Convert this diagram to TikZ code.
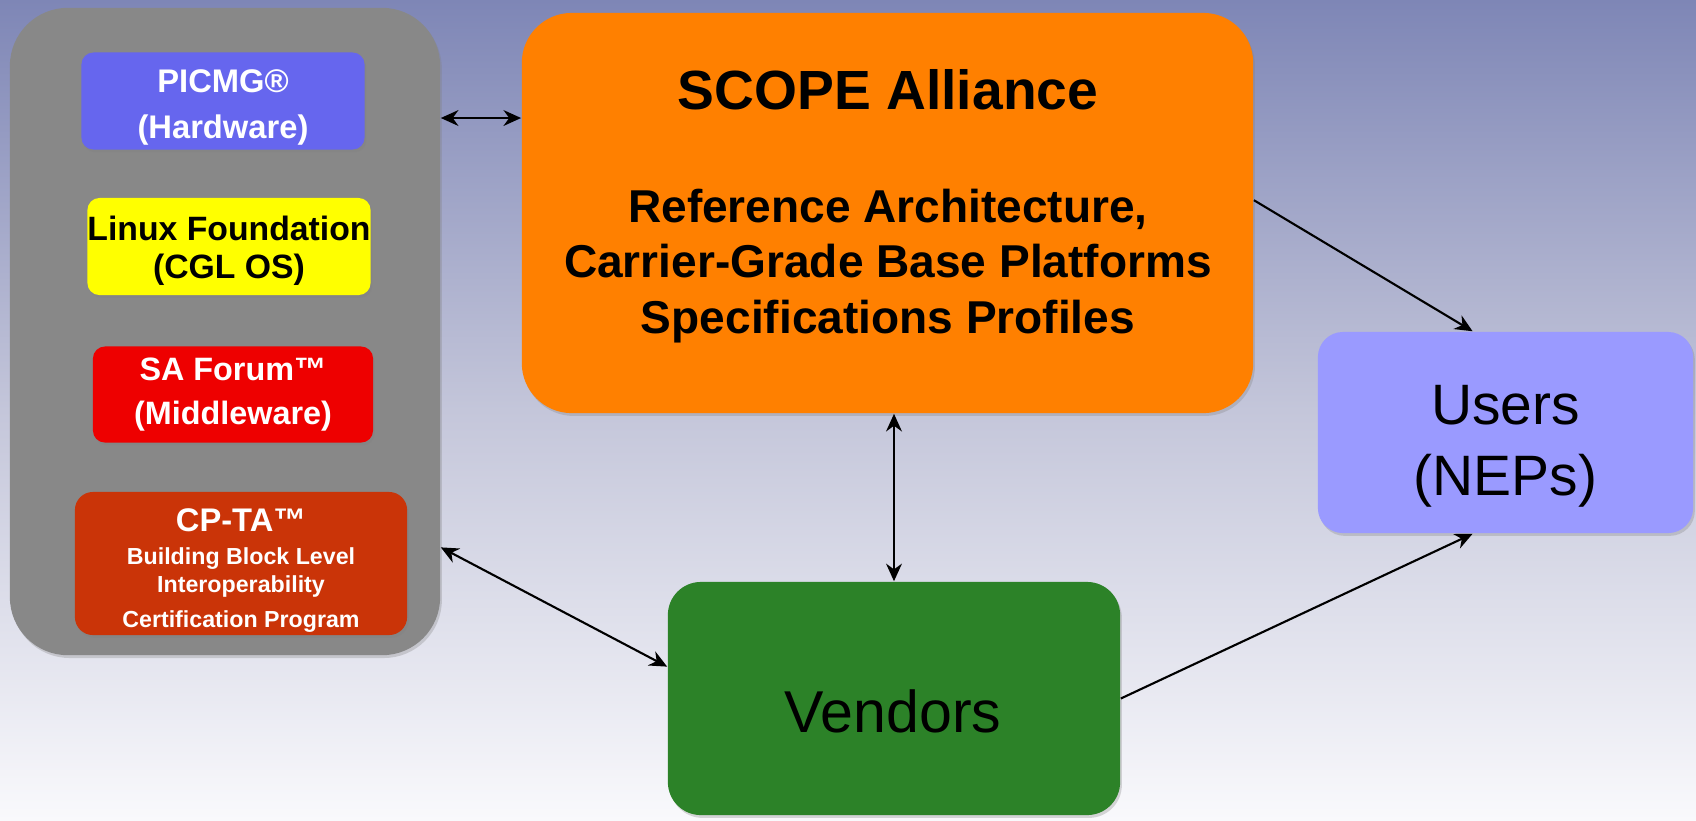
\documentclass[tikz,border=0pt]{standalone}
\usepackage{fontspec}
\setmainfont{Liberation Sans}
\usetikzlibrary{arrows.meta,shadows}
\definecolor{bgtop}{RGB}{126,134,182}
\definecolor{bgmid}{RGB}{196,198,218}
\definecolor{bgbot}{RGB}{249,249,252}
\definecolor{panelgray}{RGB}{136,136,136}
\definecolor{picmgblue}{RGB}{102,102,238}
\definecolor{linuxyellow}{RGB}{255,255,0}
\definecolor{safred}{RGB}{238,0,0}
\definecolor{cptared}{RGB}{202,52,8}
\definecolor{scopeorange}{RGB}{255,128,0}
\definecolor{userblue}{RGB}{154,154,255}
\definecolor{vendorgreen}{RGB}{44,130,40}
\newcommand{\fsz}[2]{\fontsize{#1}{#2}\selectfont}
\newcommand{\padtop}[1]{\rule{0pt}{#1}}

\begin{document}
\begin{tikzpicture}[x=0.01cm,y=-0.01cm,
  box/.style={rounded corners=0.12cm, inner sep=0pt, align=center,
    drop shadow={shadow xshift=0.5pt,shadow yshift=-0.8pt,opacity=0.3}},
  link/.style={line width=0.6pt, {Stealth[length=5pt,width=4.5pt]}-{Stealth[length=5pt,width=4.5pt]}},
  oneway/.style={line width=0.6pt, -{Stealth[length=5pt,width=4.5pt]}}]
\shade[top color=bgtop, bottom color=bgbot, middle color=bgmid] (0,0) rectangle (1696,820);
\useasboundingbox (0,0) rectangle (1696,820);
% standards bodies
\node[box, rounded corners=0.58cm, fill=panelgray, minimum width=4.3cm, minimum height=6.47cm] (panel) at (225,331.5) {};
\node[box, fill=picmgblue, text=white, minimum width=2.83cm, minimum height=0.97cm, font=\bfseries\fsz{9.3}{13}] (picmg) at (223,101) {\padtop{10pt}PICMG®\\(Hardware)};
\node[box, fill=linuxyellow, minimum width=2.8cm, minimum height=0.97cm, font=\bfseries\fsz{9.6}{10.6}] (linux) at (229,246.5) {\padtop{9.4pt}Linux Foundation\\(CGL OS)};
\node[box, fill=safred, text=white, minimum width=2.8cm, minimum height=0.96cm, font=\bfseries\fsz{9.2}{12.4}] (saf) at (233,394.5) {SA Forum™\\(Middleware)};
\node[box, rounded corners=0.18cm, fill=cptared, text=white, minimum width=3.32cm, minimum height=1.43cm, font=\bfseries\fsz{6.6}{8}] (cpta) at (241,563.5) {\padtop{10.5pt}{\fsz{9.3}{9.7}CP-TA™}\\[1.5pt]Building Block Level\\Interoperability\\[2pt]Certification Program};
% SCOPE
\node[box, rounded corners=0.5cm, fill=scopeorange, minimum width=7.31cm, minimum height=4cm] (scope) at (887.5,213) {};
\node[font=\bfseries\fsz{15.7}{18}] (scopetitle) at (888,90) {SCOPE Alliance};
\node[align=center, font=\bfseries\fsz{13.1}{15.9}] (scopebody) at (888,266) {Reference Architecture,\\Carrier-Grade Base Platforms\\Specifications Profiles};
% users and vendors
\node[box, rounded corners=0.25cm, fill=userblue, minimum width=3.75cm, minimum height=2.01cm, font=\fsz{16.2}{20.2}] (users) at (1505.5,432.5) {\padtop{19pt}Users\\(NEPs)};
\node[box, rounded corners=0.33cm, fill=vendorgreen, minimum width=4.52cm, minimum height=2.33cm] (vendors) at (894,698.5) {};
\node[font=\fsz{16.8}{20}] (vendorstext) at (893,711) {Vendors};
% links
\coordinate (hw) at (480,118);
\draw[link] (panel.east |- hw) -- (scope.west |- hw);
\draw[link] (scope.south -| vendors.north) -- (vendors.north);
\draw[link] (panel.-45) -- (vendors.172);
\draw[oneway] (scope.2) -- (users.108);
\draw[oneway] (vendors.east) -- (users.-108);
\end{tikzpicture}
\end{document}
